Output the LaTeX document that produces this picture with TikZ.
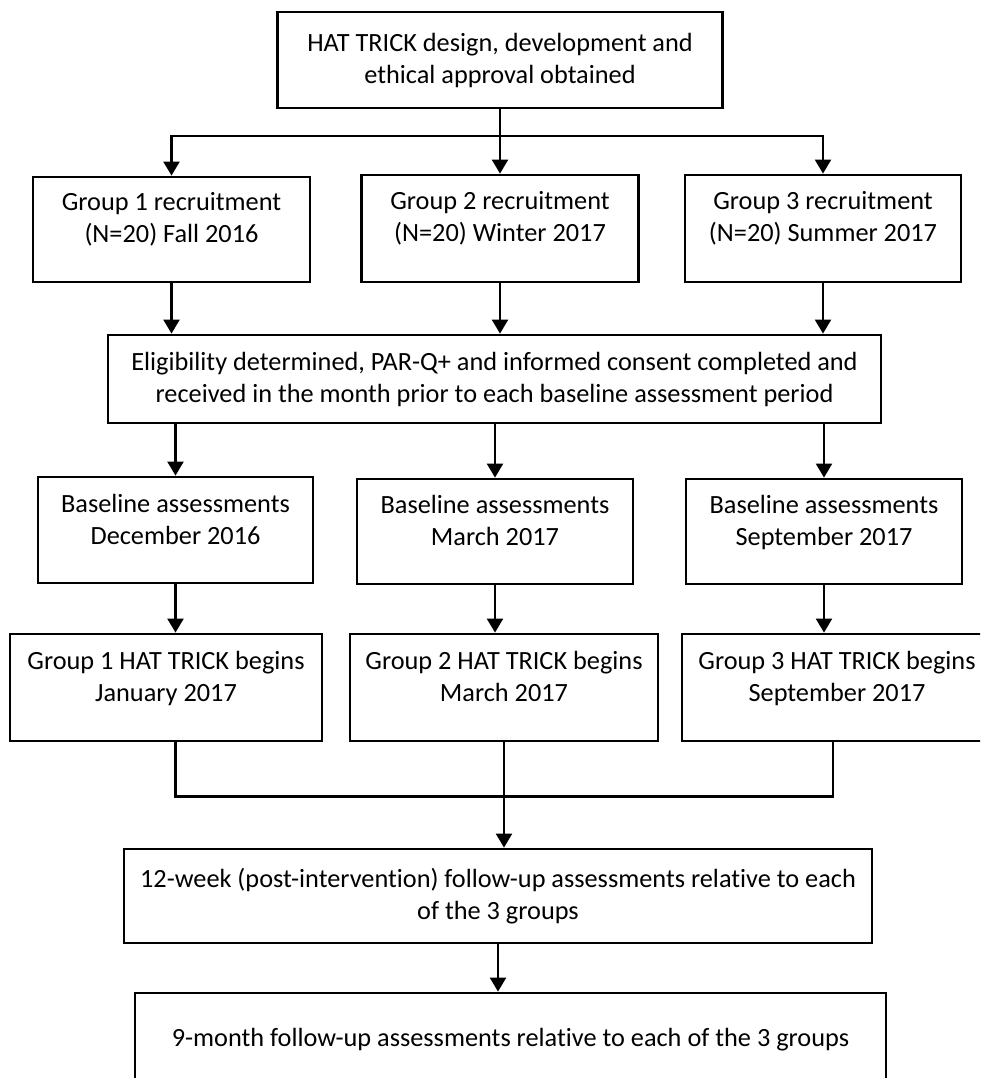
\documentclass[tikz,border=0pt]{standalone}
\usepackage{fontspec}
\setmainfont{Carlito}[Ligatures=NoCommon]
\usetikzlibrary{arrows.meta}
\begin{document}
\begin{tikzpicture}[x=1pt,y=-1pt,
  box/.style={draw,line width=2.8pt,align=center,inner sep=0pt,font=\fontsize{26.3}{32}\selectfont},
  raised/.style={text height=#1,text depth=0pt},
  link/.style={line width=2.2pt},
  arr/.style={line width=2.2pt,-{Triangle[length=14pt,width=16pt]}}]
\useasboundingbox (0,0) rectangle (980,1078);
\clip (0,0) rectangle (980,1078);
\node[box,minimum width=445pt,minimum height=96pt] (top) at (500,60) {HAT TRICK design, development and\\ethical approval obtained};
\node[box,minimum width=277pt,minimum height=105pt,raised=25pt] (g1) at (171.5,229.5) {Group 1 recruitment\\(N=20) Fall 2016};
\node[box,minimum width=277pt,minimum height=107pt,raised=25pt] (g2) at (500,228.5) {Group 2 recruitment\\(N=20) Winter 2017};
\node[box,minimum width=276pt,minimum height=107pt,raised=25pt] (g3) at (823,228.5) {Group 3 recruitment\\(N=20) Summer 2017};
\node[box,minimum width=773pt,minimum height=88pt] (elig) at (494.5,379) {Eligibility determined, PAR-Q+ and informed consent completed and\\received in the month prior to each baseline assessment period};
\node[box,minimum width=275pt,minimum height=106pt,raised=28pt] (b1) at (175.5,530) {Baseline assessments\\December 2016};
\node[box,minimum width=276pt,minimum height=105pt,raised=28pt] (b2) at (495,531.5) {Baseline assessments\\March 2017};
\node[box,minimum width=276pt,minimum height=105pt,raised=28pt] (b3) at (824,531.5) {Baseline assessments\\September 2017};
\node[box,minimum width=312pt,minimum height=107pt,raised=27pt] (h1) at (166,687.5) {Group 1 HAT TRICK begins\\January 2017};
\node[box,minimum width=308pt,minimum height=107pt,raised=27pt] (h2) at (504,687.5) {Group 2 HAT TRICK begins\\March 2017};
\node[box,minimum width=310pt,minimum height=107pt,raised=27pt] (h3) at (837,687.5) {Group 3 HAT TRICK begins\\September 2017};
\node[box,minimum width=748pt,minimum height=94pt] (w12) at (498,896) {12-week (post-intervention) follow-up assessments relative to each\\of the 3 groups};
\node[box,minimum width=751pt,minimum height=94pt] (m9) at (510.5,1040) {9-month follow-up assessments relative to each of the 3 groups};
\coordinate (split) at ([yshift=-27pt]top.south);
\coordinate (join) at ([yshift=-54pt]h2.south);
\draw[link] (top) -- (split);
\draw[arr] (split) -| (g1);
\draw[arr] (split) -- (g2);
\draw[arr] (split) -| (g3);
\foreach \i in {1,2,3} \draw[arr] (g\i) -- (g\i |- elig.north);
\foreach \i in {1,2,3} \draw[arr] (elig.south -| b\i) -- (b\i);
\foreach \i in {1,2,3} \draw[arr] (b\i) -- (b\i |- h\i.north);
\draw[link] (h1.south -| b1) |- (join) -| ([xshift=9pt]h3.south -| b3);
\draw[arr] (h2) -- (h2 |- w12.north);
\draw[arr] (w12) -- (w12 |- m9.north);
\end{tikzpicture}
\end{document}
